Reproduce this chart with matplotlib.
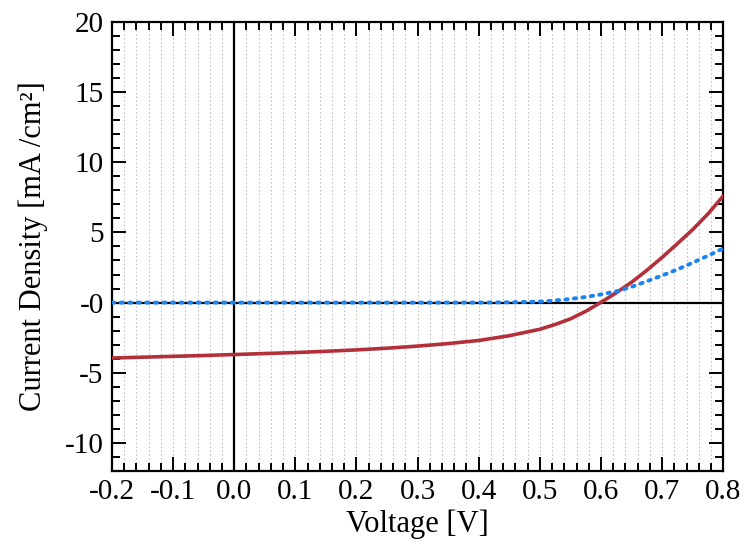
import numpy as np
import matplotlib.pyplot as plt
from matplotlib.ticker import MultipleLocator, FixedLocator, FixedFormatter

# data
voltage = [-0.2, -0.15, -0.1, -0.05, 0.0, 0.05, 0.1, 0.15, 0.2, 0.25, 0.3, 0.35,
           0.4, 0.45, 0.5, 0.525, 0.55, 0.575, 0.6, 0.625, 0.65, 0.675, 0.7, 0.725,
           0.75, 0.775, 0.8]
j_light = [-3.95, -3.89, -3.83, -3.77, -3.70, -3.63, -3.56, -3.47, -3.37, -3.25, -3.10, -2.92,
           -2.70, -2.36, -1.90, -1.56, -1.16, -0.62, 0.02, 0.70, 1.45, 2.30, 3.22, 4.20,
           5.20, 6.32, 7.60]
j_dark = [0.0, 0.0, 0.0, 0.0, 0.0, 0.0, 0.0, 0.0, 0.0, 0.0, 0.0, 0.0,
          0.0, 0.02, 0.07, 0.15, 0.26, 0.40, 0.58, 0.80, 1.12, 1.52, 1.93, 2.36,
          2.84, 3.34, 3.86]

yticks = [-10, -5, 0, 5, 10, 15, 20]
ytick_labels = ["-10", "-5", "-0", "5", "10", "15", "20"]
xticks = [-0.2, -0.1, 0.0, 0.1, 0.2, 0.3, 0.4, 0.5, 0.6, 0.7, 0.8]
xtick_labels = ["-0.2", "-0.1", "0.0", "0.1", "0.2", "0.3", "0.4", "0.5", "0.6", "0.7", "0.8"]

plt.rcParams["font.family"] = ["Liberation Serif", "DejaVu Serif"]

fig = plt.figure(figsize=(7.5, 5.48), dpi=100)
ax = fig.add_axes([0.1493, 0.1405, 0.815, 0.8195])

ax.axhline(0, color="black", lw=1.6, zorder=2)
ax.axvline(0, color="black", lw=1.6, zorder=2)

ax.plot(voltage, j_light, color="#b3303a", lw=2.6, zorder=3)
ax.plot(voltage, j_dark, color="#1a84f2", lw=2.8, linestyle=(0, (0.6, 1.6)),
        dash_capstyle="round", zorder=4)

ax.set_xlim(-0.2, 0.8)
ax.set_ylim(-12, 20)

ax.xaxis.set_major_locator(FixedLocator(xticks))
ax.xaxis.set_major_formatter(FixedFormatter(xtick_labels))
ax.xaxis.set_minor_locator(MultipleLocator(0.02))
ax.yaxis.set_major_locator(FixedLocator(yticks))
ax.yaxis.set_major_formatter(FixedFormatter(ytick_labels))
ax.yaxis.set_minor_locator(MultipleLocator(1))

ax.grid(True, which="both", axis="x", color="#c2c2c2", lw=0.8, linestyle=(0, (1.5, 2)))
ax.set_axisbelow(True)

ax.tick_params(which="both", direction="in", top=True, right=True, labelsize=21,
               width=1.4, pad=6)
ax.tick_params(which="major", length=10)
ax.tick_params(which="minor", length=6)
for s in ax.spines.values():
    s.set_linewidth(1.6)

ax.set_xlabel("Voltage [V]", fontsize=22, labelpad=3)
ax.set_ylabel("Current Density [mA /cm²]", fontsize=22, labelpad=12)

fig.savefig("out.png", dpi=100)
